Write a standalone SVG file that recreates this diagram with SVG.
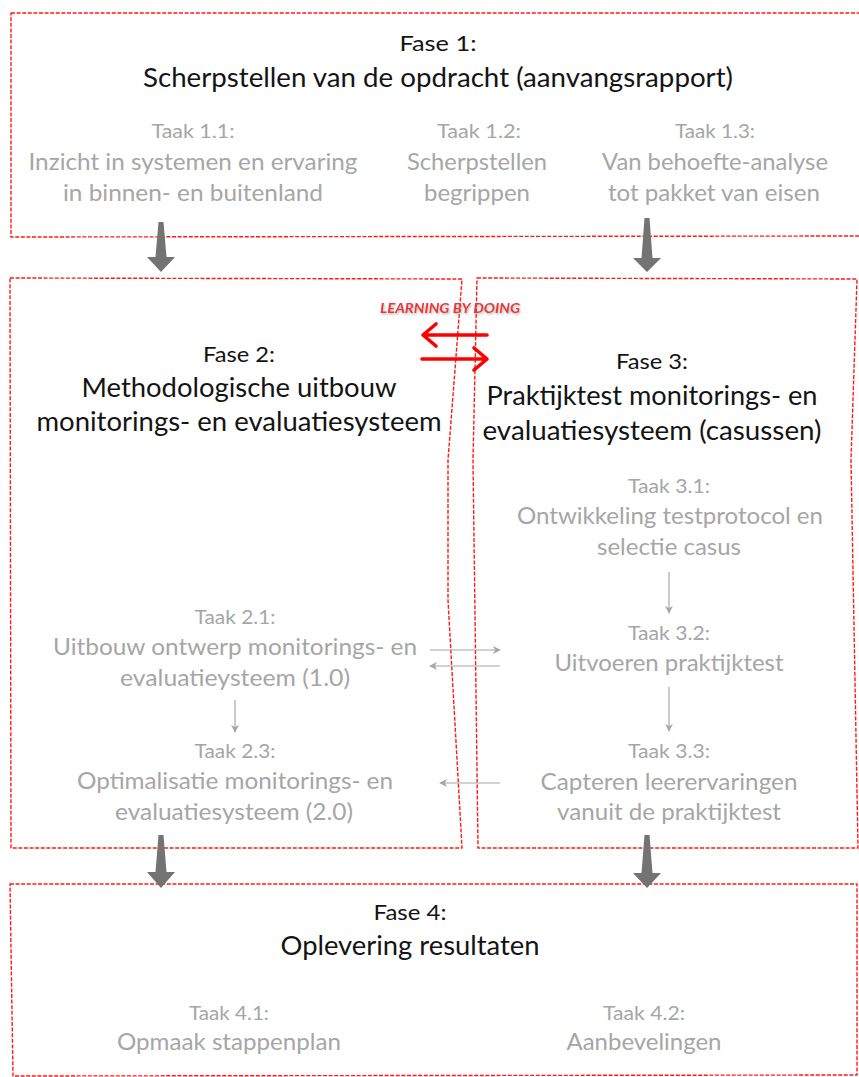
<svg xmlns="http://www.w3.org/2000/svg" width="859" height="1077" viewBox="0 0 859 1077">
  <style>
    text { font-family: Lato, "Open Sans", "Liberation Sans", sans-serif; text-anchor: middle; }
    .phase { fill: none; stroke: #ff1a1a; stroke-width: 1.4; stroke-dasharray: 4 1.6; stroke-linejoin: round; }
    .fase { font-size: 21px; fill: #141414; }
    .title { font-size: 26.5px; fill: #141414; }
    .taak { font-size: 19.5px; fill: #a6a6a6; }
    .task { font-size: 23px; fill: #a6a6a6; }
    .flow { fill: #737373; }
    .link { stroke: #a6a6a6; stroke-width: 1.2; fill: none; marker-end: url(#head); }
    .lbd { stroke: #ff0000; stroke-width: 3.6; fill: none; stroke-linecap: round; stroke-linejoin: round; }
    .lbd-label { font-size: 12.5px; font-weight: bold; font-style: italic; fill: #e8383d; }
  </style>
  <defs>
    <marker id="head" viewBox="0 0 10 10" refX="9" refY="5" markerWidth="8" markerHeight="8" markerUnits="userSpaceOnUse" orient="auto">
      <path d="M0,0 L10,5 L0,10 L3,5 Z" fill="#a6a6a6"/>
    </marker>
    <filter id="shade" x="-10%" y="-40%" width="120%" height="180%">
      <feDropShadow dx="1" dy="1.5" stdDeviation="1" flood-color="#777" flood-opacity="0.55"/>
    </filter>
  </defs>

  <!-- Phase 1 -->
  <g id="fase1">
    <path class="phase" d="M11,13 L864,13 L864,236 L11,237 Z"/>
    <text class="fase" x="438" y="51" textLength="77" lengthAdjust="spacingAndGlyphs">Fase 1:</text>
    <text class="title" x="438" y="87" textLength="590" lengthAdjust="spacingAndGlyphs">Scherpstellen van de opdracht (aanvangsrapport)</text>
  </g>
  <g id="taak-1-1">
    <text class="taak" x="193" y="138" textLength="83" lengthAdjust="spacingAndGlyphs">Taak 1.1:</text>
    <text class="task" x="193" y="170" textLength="329" lengthAdjust="spacingAndGlyphs">Inzicht in systemen en ervaring</text>
    <text class="task" x="193" y="201" textLength="260" lengthAdjust="spacingAndGlyphs">in binnen- en buitenland</text>
  </g>
  <g id="taak-1-2">
    <text class="taak" x="479" y="138" textLength="84" lengthAdjust="spacingAndGlyphs">Taak 1.2:</text>
    <text class="task" x="477" y="170" textLength="140" lengthAdjust="spacingAndGlyphs">Scherpstellen</text>
    <text class="task" x="477" y="201" textLength="106" lengthAdjust="spacingAndGlyphs">begrippen</text>
  </g>
  <g id="taak-1-3">
    <text class="taak" x="715" y="138" textLength="80" lengthAdjust="spacingAndGlyphs">Taak 1.3:</text>
    <text class="task" x="715" y="170" textLength="226" lengthAdjust="spacingAndGlyphs">Van behoefte-analyse</text>
    <text class="task" x="714" y="201" textLength="212" lengthAdjust="spacingAndGlyphs">tot pakket van eisen</text>
  </g>

  <!-- Phase 2 -->
  <g id="fase2">
    <path class="phase" d="M10,278 L462,279 L448,460 L448,600 L462,848 L11,848 Z"/>
    <text class="fase" x="239" y="362" textLength="72" lengthAdjust="spacingAndGlyphs">Fase 2:</text>
    <text class="title" x="239" y="397" textLength="315" lengthAdjust="spacingAndGlyphs">Methodologische uitbouw</text>
    <text class="title" x="239" y="431" textLength="405" lengthAdjust="spacingAndGlyphs">monitorings- en evaluatiesysteem</text>
  </g>
  <g id="taak-2-1">
    <text class="taak" x="235" y="624" textLength="81" lengthAdjust="spacingAndGlyphs">Taak 2.1:</text>
    <text class="task" x="235" y="655" textLength="364" lengthAdjust="spacingAndGlyphs">Uitbouw ontwerp monitorings- en</text>
    <text class="task" x="235" y="686" textLength="230" lengthAdjust="spacingAndGlyphs">evaluatieysteem (1.0)</text>
  </g>
  <g id="taak-2-3">
    <text class="taak" x="235" y="758" textLength="81" lengthAdjust="spacingAndGlyphs">Taak 2.3:</text>
    <text class="task" x="235" y="789" textLength="316" lengthAdjust="spacingAndGlyphs">Optimalisatie monitorings- en</text>
    <text class="task" x="234" y="820" textLength="238" lengthAdjust="spacingAndGlyphs">evaluatiesysteem (2.0)</text>
  </g>

  <!-- Phase 3 -->
  <g id="fase3">
    <path class="phase" d="M477,278 L857,279 L851,460 L858,848 L478,848 L473,460 Z"/>
    <text class="fase" x="652" y="369" textLength="72" lengthAdjust="spacingAndGlyphs">Fase 3:</text>
    <text class="title" x="652" y="405" textLength="331" lengthAdjust="spacingAndGlyphs">Praktijktest monitorings- en</text>
    <text class="title" x="652" y="440" textLength="339" lengthAdjust="spacingAndGlyphs">evaluatiesysteem (casussen)</text>
  </g>
  <g id="taak-3-1">
    <text class="taak" x="669" y="493" textLength="82" lengthAdjust="spacingAndGlyphs">Taak 3.1:</text>
    <text class="task" x="670" y="524" textLength="306" lengthAdjust="spacingAndGlyphs">Ontwikkeling testprotocol en</text>
    <text class="task" x="669" y="555" textLength="144" lengthAdjust="spacingAndGlyphs">selectie casus</text>
  </g>
  <g id="taak-3-2">
    <text class="taak" x="669" y="640" textLength="82" lengthAdjust="spacingAndGlyphs">Taak 3.2:</text>
    <text class="task" x="669" y="671" textLength="229" lengthAdjust="spacingAndGlyphs">Uitvoeren praktijktest</text>
  </g>
  <g id="taak-3-3">
    <text class="taak" x="669" y="758" textLength="82" lengthAdjust="spacingAndGlyphs">Taak 3.3:</text>
    <text class="task" x="669" y="790" textLength="257" lengthAdjust="spacingAndGlyphs">Capteren leerervaringen</text>
    <text class="task" x="669" y="820" textLength="224" lengthAdjust="spacingAndGlyphs">vanuit de praktijktest</text>
  </g>

  <!-- Phase 4 -->
  <g id="fase4">
    <path class="phase" d="M10,884 L857,884 L857,1075 L13,1076 Z"/>
    <text class="fase" x="410" y="920" textLength="73" lengthAdjust="spacingAndGlyphs">Fase 4:</text>
    <text class="title" x="410" y="955" textLength="259" lengthAdjust="spacingAndGlyphs">Oplevering resultaten</text>
  </g>
  <g id="taak-4-1">
    <text class="taak" x="229" y="1020" textLength="80" lengthAdjust="spacingAndGlyphs">Taak 4.1:</text>
    <text class="task" x="229" y="1050" textLength="224" lengthAdjust="spacingAndGlyphs">Opmaak stappenplan</text>
  </g>
  <g id="taak-4-2">
    <text class="taak" x="644" y="1020" textLength="82" lengthAdjust="spacingAndGlyphs">Taak 4.2:</text>
    <text class="task" x="644" y="1050" textLength="155" lengthAdjust="spacingAndGlyphs">Aanbevelingen</text>
  </g>

  <!-- Connectors -->
  <g id="connectors">
    <!-- phase-to-phase block arrows -->
    <polygon class="flow" points="158.5,222 163.5,222 166.5,257 175,257 161,272 147,257 155.5,257"/>
    <polygon class="flow" points="644.5,218 649.5,218 652.5,258 661,258 647,272 633,258 641.5,258"/>
    <polygon class="flow" points="158.5,835 163.5,835 166.5,872 175,872 161,888 147,872 155.5,872"/>
    <polygon class="flow" points="644.5,835 649.5,835 652.5,873 661,873 647,888 633,873 641.5,873"/>

    <!-- task-to-task links -->
    <line class="link" x1="235" y1="700" x2="235" y2="732"/>
    <line class="link" x1="669" y1="572" x2="669" y2="613"/>
    <line class="link" x1="669" y1="687" x2="669" y2="731"/>
    <line class="link" x1="430" y1="650" x2="500" y2="650"/>
    <line class="link" x1="500" y1="666" x2="430" y2="666"/>
    <line class="link" x1="500" y1="783" x2="440" y2="783"/>

    <!-- learning by doing exchange -->
    <g id="learning-by-doing">
      <text class="lbd-label" x="450" y="313" textLength="140" lengthAdjust="spacingAndGlyphs" filter="url(#shade)">LEARNING BY DOING</text>
      <path class="lbd" d="M487,335 L424,335 M436,324 L423,335 L436,346"/>
      <path class="lbd" d="M422,359 L485,359 M474,348 L487,359 L474,370"/>
    </g>
  </g>
</svg>
